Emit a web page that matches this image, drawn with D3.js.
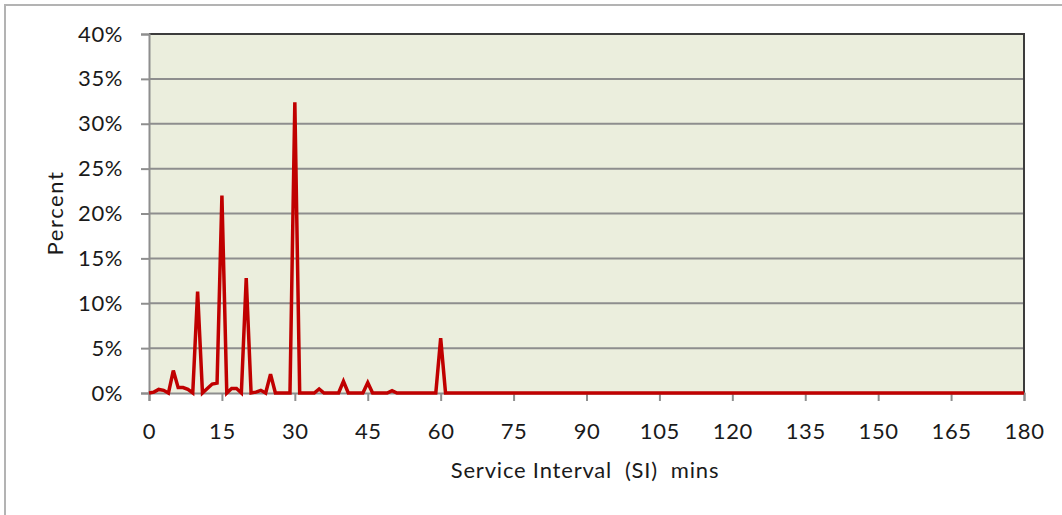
<!DOCTYPE html>
<html>
<head>
<meta charset="utf-8">
<script src="https://cdn.jsdelivr.net/npm/d3@7"></script>
<style>
  html, body { margin: 0; padding: 0; background: #ffffff; }
  svg { display: block; }
  text { font-family: Lato, "Open Sans", sans-serif; fill: #1a1a1a; }
</style>
</head>
<body>
<svg id="chart" width="1062" height="515"></svg>
<script>
// Service interval (minutes) and percent of services
const minutes = [0,1,2,3,4,5,6,7,8,9,10,11,12,13,14,15,16,17,18,19,20,21,22,23,24,25,26,27,28,29,30,
                 31,32,33,34,35,36,37,38,39,40,41,42,43,44,45,46,47,48,49,50,51,52,53,54,55,56,57,58,59,60,61,180];
const percent = [0,0.1,0.4,0.3,0,2.5,0.6,0.6,0.4,0,11.3,0,0.5,1.0,1.1,22.0,0,0.5,0.5,0,12.8,0,0.1,0.3,0,2.1,0,0,0,0,32.4,
                 0,0,0,0,0.45,0,0,0,0,1.3,0,0,0,0,1.15,0,0,0,0,0.25,0,0,0,0,0,0,0,0,0,6.1,0,0];
const xTicks = [0,15,30,45,60,75,90,105,120,135,150,165,180];
const yTicks = [0,5,10,15,20,25,30,35,40];
const xTitle = "Service Interval  (SI)  mins";
const yTitle = "Percent";

(function () {
const svg = d3.select("#chart");
const pLeft = 149, pRight = 1024, pTop = 34, pBottom = 393;
const fs = 22;

const x = d3.scaleLinear().domain([0, 180]).range([pLeft, pRight]);
const y = d3.scaleLinear().domain([0, 40]).range([pBottom, pTop]);

// outer frame
svg.append("rect").attr("x", 5).attr("y", 5).attr("width", 1070).attr("height", 530)
  .attr("fill", "none").attr("stroke", "#b3b3b3").attr("stroke-width", 2);

// plot background
svg.append("rect").attr("x", pLeft).attr("y", pTop).attr("width", pRight - pLeft).attr("height", pBottom - pTop)
  .attr("fill", "#ebeedd");

// gridlines
svg.append("g").selectAll("line").data(yTicks.filter(d => d > 0 && d < 40)).join("line")
  .attr("x1", pLeft).attr("x2", pRight)
  .attr("y1", d => y(d)).attr("y2", d => y(d))
  .attr("stroke", "#8e8e8e").attr("stroke-width", 2);

// plot border top/right
svg.append("path")
  .attr("d", `M${pLeft},${pTop}H${pRight}V${pBottom}`)
  .attr("fill", "none").attr("stroke", "#3c3c3c").attr("stroke-width", 2);

// y axis
const yAxis = d3.axisLeft(y).tickValues(yTicks).tickSize(8).tickPadding(18)
  .tickFormat(d => d + "%");
const gy = svg.append("g").attr("transform", `translate(${pLeft},0)`).call(yAxis);
gy.select(".domain").attr("stroke", "#8e8e8e").attr("stroke-width", 2);
gy.selectAll(".tick line").attr("stroke", "#8e8e8e").attr("stroke-width", 2);
gy.selectAll(".tick text").attr("font-size", fs).attr("font-family", "Lato, sans-serif")
  .attr("fill", "#1a1a1a").attr("letter-spacing", 0.6);

// x axis
const xAxis = d3.axisBottom(x).tickValues(xTicks).tickSize(8).tickPadding(22);
const gx = svg.append("g").attr("transform", `translate(0,${pBottom})`).call(xAxis);
gx.select(".domain").attr("stroke", "#8e8e8e").attr("stroke-width", 2);
gx.selectAll(".tick line").attr("stroke", "#8e8e8e").attr("stroke-width", 2);
gx.selectAll(".tick text").attr("font-size", fs).attr("font-family", "Lato, sans-serif")
  .attr("fill", "#1a1a1a").attr("letter-spacing", 0.6);

// data line
const data = minutes.map((m, i) => ({ m, v: percent[i] }));
svg.append("path").datum(data)
  .attr("d", d3.line().x(d => x(d.m)).y(d => y(d.v)))
  .attr("fill", "none").attr("stroke", "#c00000").attr("stroke-width", 3.5)
  .attr("stroke-linejoin", "miter").attr("stroke-miterlimit", 4);

// titles
svg.append("text").attr("x", 585).attr("y", 478).attr("text-anchor", "middle")
  .attr("font-size", fs).attr("letter-spacing", 0.8).style("white-space", "pre").text(xTitle);
svg.append("text").attr("transform", "translate(63,213) rotate(-90)").attr("text-anchor", "middle")
  .attr("font-size", fs).attr("letter-spacing", 1.6).text(yTitle);
})();
</script>
</body>
</html>
